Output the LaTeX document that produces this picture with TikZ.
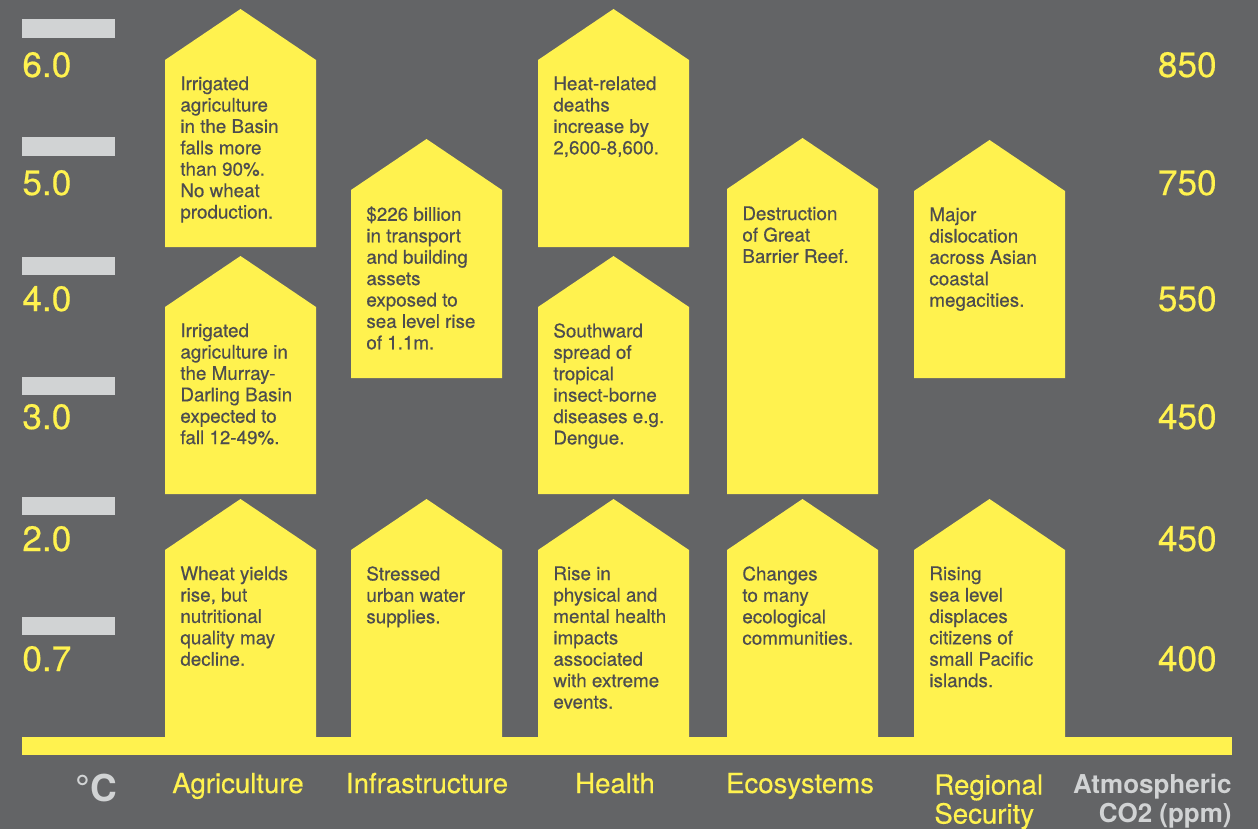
\documentclass[tikz,border=0pt]{standalone}
\usepackage{fontspec}
\setmainfont{TeX Gyre Heros}
\newfontfamily\mediumface{TeX Gyre Heros}[FakeBold=0.45]
\definecolor{bggray}{HTML}{636466}
\definecolor{warnyellow}{HTML}{FFF24F}
\definecolor{inkgray}{HTML}{4D4D4F}
\definecolor{bargray}{HTML}{D1D3D4}
% house shape: left x, apex y, bottom y
\newcommand{\roofbox}[3]{\fill[impact] (#1,#3) -- (#1,#2+51) -- (#1+75.5,#2) -- (#1+151,#2+51) -- (#1+151,#3) -- cycle;}

\begin{document}
\begin{tikzpicture}[x=0.5pt,y=-0.5pt]
\tikzstyle{impact}=[fill=warnyellow]
\tikzstyle{impacttext}=[anchor=north west,inner sep=0pt,align=left,text=inkgray,font=\mediumface\fontsize{9.4}{10.7}\selectfont]
\tikzstyle{scalebar}=[fill=bargray]
\tikzstyle{degree}=[anchor=base west,inner sep=0pt,text=warnyellow,font=\mediumface\fontsize{17.6}{20}\selectfont]
\tikzstyle{ppm}=[anchor=base east,inner sep=0pt,text=warnyellow,font=\mediumface\fontsize{17.6}{20}\selectfont]
\tikzstyle{sector}=[anchor=base,inner sep=0pt,text=warnyellow,font=\mediumface\fontsize{13.8}{14.5}\selectfont]
\useasboundingbox (0,0) rectangle (1258,829);
\fill[bggray] (0,0) rectangle (1258,829);

% temperature scale
\fill[scalebar] (22,19) rectangle (115,38);
\fill[scalebar] (22,137) rectangle (115,156);
\fill[scalebar] (22,257) rectangle (115,275);
\fill[scalebar] (22,377) rectangle (115,395);
\fill[scalebar] (22,497) rectangle (115,515);
\fill[scalebar] (22,617) rectangle (115,635);
\node[degree] (t6) at (22,77) {6.0};
\node[degree] (t5) at (22,195) {5.0};
\node[degree] (t4) at (22,311) {4.0};
\node[degree] (t3) at (22,429) {3.0};
\node[degree] (t2) at (22,551) {2.0};
\node[degree] (t1) at (22,671) {0.7};
\node[ppm] (c6) at (1217,77) {850};
\node[ppm] (c5) at (1217,195) {750};
\node[ppm] (c4) at (1217,311) {550};
\node[ppm] (c3) at (1217,429) {450};
\node[ppm] (c2) at (1217,551) {450};
\node[ppm] (c1) at (1217,671) {400};

% base line
\fill[impact] (22,737) rectangle (1232,755);

% agriculture
\roofbox{165}{9}{247}
\node[impacttext] (agri3) at (180,76) {Irrigated\\agriculture\\in the Basin\\falls more\\than 90\%.\\No wheat\\production.};
\roofbox{165}{256}{494}
\node[impacttext] (agri2) at (180,323) {Irrigated\\agriculture in\\the Murray-\\Darling Basin\\expected to\\fall 12-49\%.};
\roofbox{165}{499}{737}
\node[impacttext] (agri1) at (180,566) {Wheat yields\\rise, but\\nutritional\\quality may\\decline.};

% infrastructure
\roofbox{351}{139}{378}
\node[impacttext] (infra2) at (366,206) {\$226 billion\\in transport\\and building\\assets\\exposed to\\sea level rise\\of 1.1m.};
\roofbox{351}{499}{737}
\node[impacttext] (infra1) at (366,566) {Stressed\\urban water\\supplies.};

% health
\roofbox{538}{9}{247}
\node[impacttext] (health3) at (553,76) {Heat-related\\deaths\\increase by\\2,600-8,600.};
\roofbox{538}{256}{494}
\node[impacttext] (health2) at (553,323) {Southward\\spread of\\tropical\\insect-borne\\diseases e.g.\\Dengue.};
\roofbox{538}{499}{737}
\node[impacttext] (health1) at (553,566) {Rise in\\physical and\\mental health\\impacts\\associated\\with extreme\\events.};

% ecosystems
\roofbox{727}{138}{494}
\node[impacttext] (eco2) at (742,206) {Destruction\\of Great\\Barrier Reef.};
\roofbox{727}{499}{737}
\node[impacttext] (eco1) at (742,566) {Changes\\to many\\ecological\\communities.};

% regional security
\roofbox{914}{140}{378}
\node[impacttext] (region2) at (929,207) {Major\\dislocation\\across Asian\\coastal\\megacities.};
\roofbox{914}{499}{737}
\node[impacttext] (region1) at (929,566) {Rising\\sea level\\displaces\\citizens of\\small Pacific\\islands.};

% axis titles
\node[anchor=base,inner sep=0pt,text=bargray,font=\fontsize{18.5}{20}\selectfont\bfseries] (celsius) at (96,801) {°C};
\node[sector] (agri) at (238,793) {Agriculture};
\node[sector] (infra) at (427,793) {Infrastructure};
\node[sector] (health) at (615,793) {Health};
\node[sector] (eco) at (800,793) {Ecosystems};
\node[sector,anchor=north west,align=left] (region) at (934,774) {Regional\\Security};
\node[anchor=north east,align=right,inner sep=0pt,text=bargray,font=\fontsize{13}{14.5}\selectfont\bfseries] (co2) at (1232,774) {Atmospheric\\CO2 (ppm)};
\end{tikzpicture}
\end{document}
